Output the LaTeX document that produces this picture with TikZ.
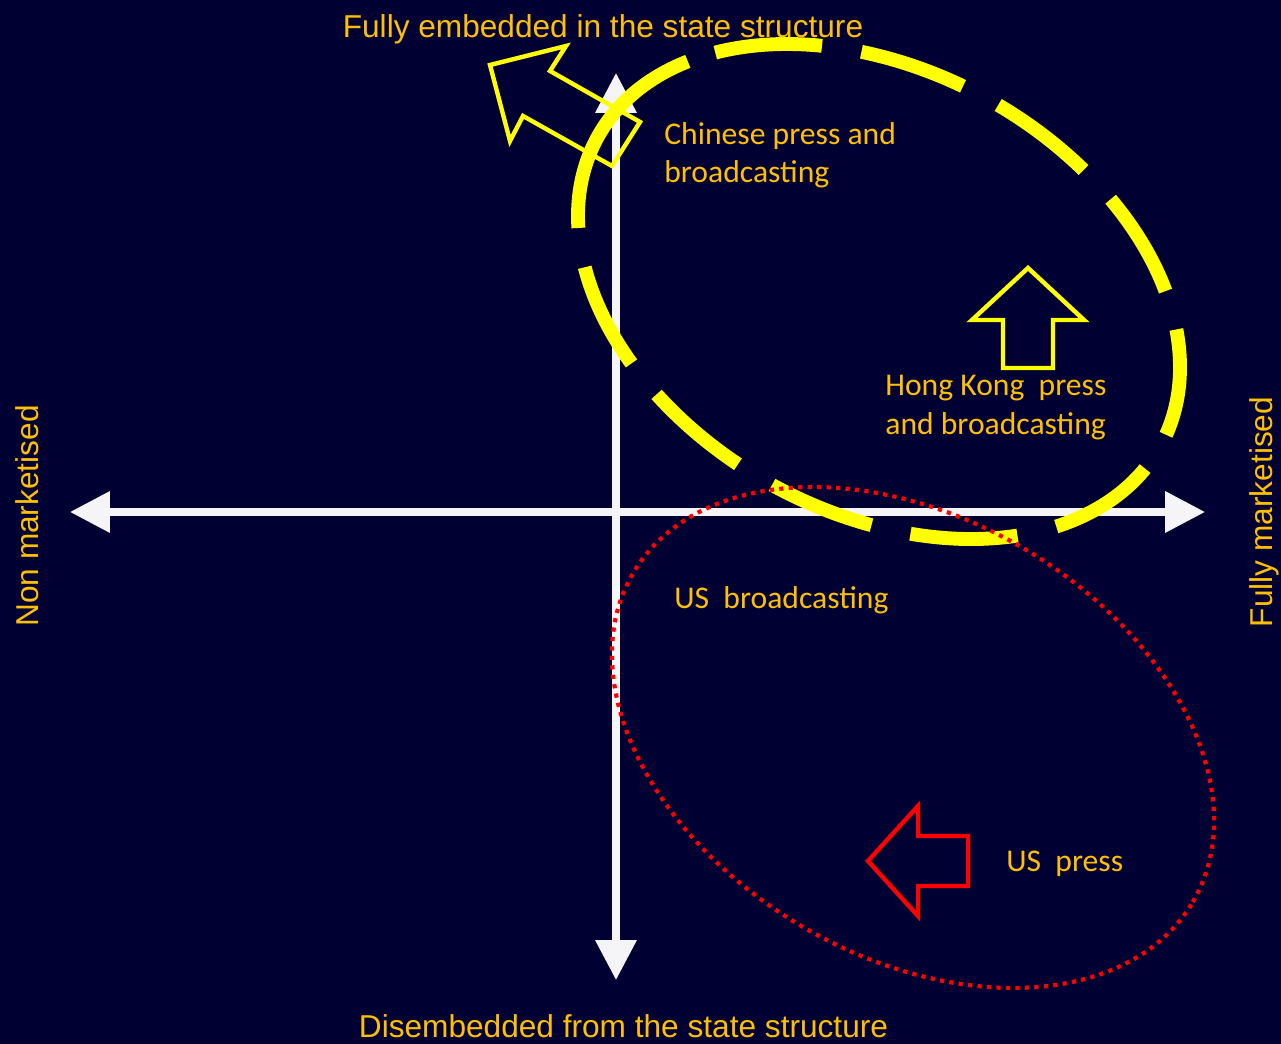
\documentclass[tikz,border=0pt]{standalone}
\usepackage{fontspec}
\setmainfont{Liberation Sans}
\newfontfamily\carlito{Carlito}
\usepackage{xcolor}
\usepackage{tikz}
\usetikzlibrary{arrows.meta}
\definecolor{navy}{HTML}{000033}
\definecolor{gold}{HTML}{FFC000}
\definecolor{brightyellow}{HTML}{FFFF00}
\definecolor{brightred}{HTML}{FF0000}
\definecolor{offwhite}{HTML}{F5F5F7}

\begin{document}
\begin{tikzpicture}[x=0.02cm, y=0.02cm,
    axisline/.style={draw=offwhite, line width=4pt,
      {Triangle[length=22.7pt, width=22.7pt]}-{Triangle[length=22.7pt, width=22.7pt]}},
    shiftarrow/.style={draw=#1, line width=2.5pt},
    embedring/.style={draw=brightyellow, line width=7.9pt},
    marketring/.style={draw=brightred, line width=2.4pt, dash pattern=on 2.4pt off 3pt},
    axislabel/.style={text=gold, inner sep=0pt, font=\fontsize{18}{22}\selectfont},
    medialabel/.style={text=gold, inner sep=0pt, align=left, font=\carlito\fontsize{18}{22}\selectfont}]
    % background
    \fill[navy] (0,0) rectangle (1281,1044);
    \useasboundingbox (0,0) rectangle (1281,1044);

    % axes
    \coordinate (west) at (70,532);
    \coordinate (east) at (1205,532);
    \coordinate (north) at (616,971);
    \coordinate (south) at (616,64);
    \draw[axisline] (west) -- (east);
    \draw[axisline] (south) -- (north);

    % movement arrows
    \draw[shiftarrow=brightyellow] (490,979) -- (566,998) -- (550,973) -- (640,922)
      -- (612,878) -- (523,928) -- (510,903) -- cycle;
    \draw[shiftarrow=brightyellow] (1028,776) -- (1084,724) -- (1053,724) -- (1053,676)
      -- (1003,676) -- (1003,724) -- (972,724) -- cycle;
    \draw[shiftarrow=brightred] (868,183) -- (918,238) -- (918,208) -- (968,208)
      -- (968,158) -- (918,158) -- (918,128) -- cycle;

    % groupings
    \begin{scope}[shift={(879,752.5)}, rotate=-28.6]
      \draw[embedring] (150:321 and 221) arc[start angle=150, end angle=203.5, x radius=321, y radius=221];
      \draw[embedring, dash pattern=on 61.2pt off 22.7pt, dash phase=61.2pt]
        (203.5:321 and 221) arc[start angle=203.5, end angle=510, x radius=321, y radius=221];
    \end{scope}
    \begin{scope}[shift={(913,306.5)}, rotate=-30.45]
      \draw[marketring] (0,0) ellipse[x radius=324.6, y radius=219.1];
    \end{scope}

    % axis labels
    \node[axislabel, anchor=base] (embedded) at (603,1006) {Fully embedded in the state structure};
    \node[axislabel, anchor=base] (disembedded) at (623.5,6) {Disembedded from the state structure};
    \node[axislabel, rotate=90] (nonmarket) at (27,528) {Non marketised};
    \node[axislabel, rotate=90] (fullmarket) at (1264,532) {Fully marketised};

    % media labels
    \node[medialabel, anchor=north west] (chinese) at (664,922) {Chinese press and\\broadcasting};
    \node[medialabel, anchor=north west] (hongkong) at (885,669) {Hong Kong\ \ press\\and broadcasting};
    \node[medialabel, anchor=base west] (usbroad) at (674,435) {US\ \ broadcasting};
    \node[medialabel, anchor=base west] (uspress) at (1006,172) {US\ \ press};
  \end{tikzpicture}
\end{document}
